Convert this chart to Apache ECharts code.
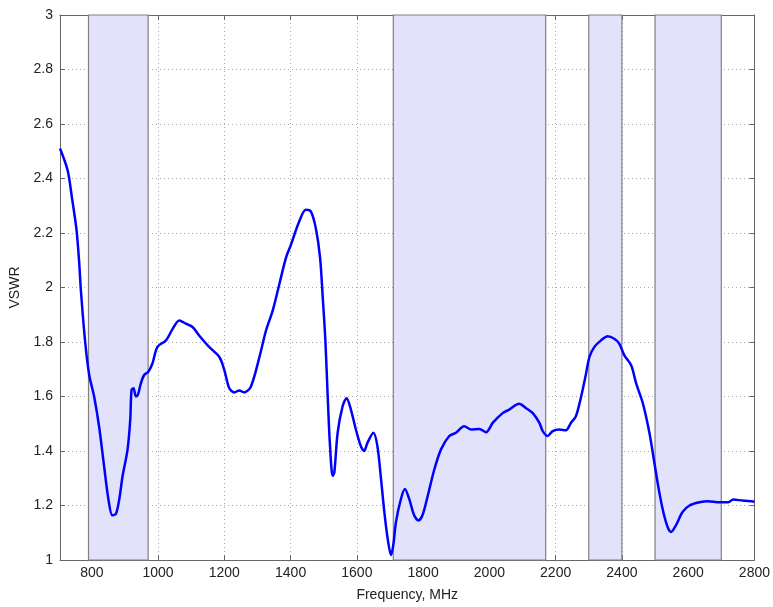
<!DOCTYPE html>
<html>
<head>
<meta charset="utf-8">
<style>
  html, body { margin: 0; padding: 0; background: #fff; }
  #chart { width: 773px; height: 607px; }
</style>
<script src="https://cdn.jsdelivr.net/npm/echarts@6/dist/echarts.min.js"></script>
</head>
<body>
<div id="chart"></div>
<script>
// measured VSWR curve (MHz / VSWR)
const freq = [704, 727, 740, 754, 762, 767, 780, 792, 807, 822, 837, 850, 862, 873, 883, 893, 908, 916, 920, 926, 933, 939, 948, 958, 970, 983, 998, 1024, 1044, 1064, 1084, 1104, 1124, 1154, 1185, 1200, 1215, 1230, 1245, 1260, 1280, 1305, 1326, 1346, 1366, 1386, 1401, 1426, 1446, 1461, 1476, 1489, 1497, 1505, 1512, 1519, 1527, 1532, 1542, 1557, 1569, 1582, 1597, 1612, 1622, 1632, 1650, 1662, 1673, 1683, 1693, 1703, 1710, 1718, 1733, 1745, 1758, 1773, 1786, 1798, 1814, 1834, 1854, 1879, 1899, 1924, 1945, 1970, 1990, 2010, 2040, 2060, 2090, 2111, 2131, 2151, 2161, 2176, 2191, 2211, 2231, 2246, 2261, 2277, 2290, 2302, 2317, 2337, 2357, 2377, 2392, 2407, 2428, 2443, 2463, 2483, 2498, 2511, 2525, 2538, 2548, 2563, 2583, 2604, 2634, 2660, 2694, 2721, 2736, 2764, 2796, 2800]
const vswr = [2.51, 2.43, 2.33, 2.21, 2.09, 1.99, 1.80, 1.68, 1.60, 1.49, 1.345, 1.224, 1.164, 1.17, 1.224, 1.309, 1.406, 1.515, 1.624, 1.63, 1.60, 1.606, 1.648, 1.679, 1.69, 1.721, 1.782, 1.806, 1.848, 1.879, 1.867, 1.855, 1.824, 1.782, 1.745, 1.697, 1.63, 1.615, 1.622, 1.615, 1.636, 1.74, 1.843, 1.915, 2.012, 2.109, 2.157, 2.242, 2.285, 2.279, 2.218, 2.109, 1.964, 1.806, 1.60, 1.418, 1.309, 1.321, 1.467, 1.564, 1.594, 1.552, 1.479, 1.418, 1.40, 1.43, 1.467, 1.418, 1.297, 1.176, 1.079, 1.018, 1.055, 1.139, 1.224, 1.261, 1.224, 1.164, 1.145, 1.164, 1.236, 1.333, 1.406, 1.455, 1.467, 1.491, 1.479, 1.481, 1.469, 1.503, 1.539, 1.552, 1.573, 1.557, 1.539, 1.503, 1.473, 1.455, 1.473, 1.479, 1.476, 1.503, 1.527, 1.60, 1.673, 1.745, 1.782, 1.806, 1.821, 1.812, 1.794, 1.752, 1.715, 1.648, 1.576, 1.467, 1.357, 1.261, 1.176, 1.121, 1.103, 1.127, 1.176, 1.20, 1.212, 1.216, 1.212, 1.212, 1.222, 1.218, 1.215, 1.214]

// shaded bands [start, end] in MHz
const bandStart = [790, 1710, 2300, 2500]
const bandEnd = [970, 2170, 2400, 2700]

const FONT = 'Liberation Sans, Arial, sans-serif'
const txt = '#222'
const frame = '#666'

const chart = echarts.init(document.getElementById('chart'), null, { renderer: 'canvas' })

const points = freq.map((f, i) => [f, vswr[i]])
const areas = bandStart.map((s, i) => [{ xAxis: s }, { xAxis: bandEnd[i] }])

const tickStyle = { show: true, inside: true, length: 5, lineStyle: { color: frame } }
const gridLine = { show: true, lineStyle: { color: '#a8a8a8', type: [1, 3], width: 1 } }

chart.setOption({
  animation: false,
  grid: { left: 59.3, right: 18.3, top: 15, bottom: 43 },
  xAxis: [
    {
      type: 'value',
      min: 704,
      max: 2800,
      splitNumber: 10,
      name: 'Frequency, MHz',
      nameLocation: 'middle',
      nameGap: 28,
      nameTextStyle: { fontFamily: FONT, fontSize: 14, color: txt },
      axisLine: { show: true, lineStyle: { color: frame } },
      axisTick: tickStyle,
      axisLabel: {
        showMinLabel: false, fontFamily: FONT, fontSize: 14, color: txt, margin: 6,
        formatter: v => String(v)
      },
      splitLine: gridLine
    },
    {
      type: 'value',
      position: 'top',
      min: 704,
      max: 2800,
      splitNumber: 10,
      axisLine: { show: true, lineStyle: { color: frame } },
      axisTick: tickStyle,
      axisLabel: { show: false },
      splitLine: { show: false }
    }
  ],
  yAxis: [
    {
      type: 'value',
      min: 1,
      max: 3,
      interval: 0.2,
      name: 'VSWR',
      nameLocation: 'middle',
      nameGap: 38,
      nameTextStyle: { fontFamily: FONT, fontSize: 14, color: txt },
      axisLine: { show: true, lineStyle: { color: frame } },
      axisTick: tickStyle,
      axisLabel: { fontFamily: FONT, fontSize: 14, color: txt, margin: 7 },
      splitLine: gridLine
    },
    {
      type: 'value',
      position: 'right',
      min: 1,
      max: 3,
      interval: 0.2,
      axisLine: { show: true, lineStyle: { color: frame } },
      axisTick: tickStyle,
      axisLabel: { show: false },
      splitLine: { show: false }
    }
  ],
  series: [
    {
      type: 'line',
      data: points,
      smooth: 0.3,
      showSymbol: false,
      lineStyle: { color: '#0000ff', width: 2.5 },
      z: 5,
      markArea: {
        silent: true,
        itemStyle: { color: '#e2e2fa', borderColor: '#808080', borderWidth: 1.2 },
        data: areas
      }
    }
  ]
})
</script>
</body>
</html>
